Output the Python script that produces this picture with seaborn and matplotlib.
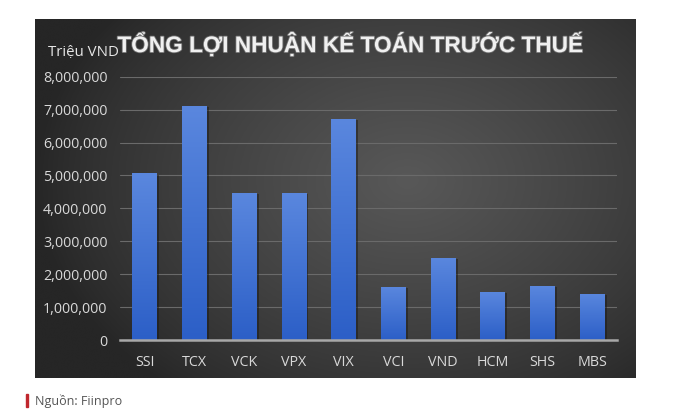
import numpy as np
import pandas as pd
import matplotlib
matplotlib.use("Agg")
import matplotlib.pyplot as plt
import seaborn as sns
from matplotlib.colors import LinearSegmentedColormap
from matplotlib.ticker import FuncFormatter
import matplotlib.patches as mpatches
import matplotlib.patheffects as pe

# ---- data ----
companies = ["SSI", "TCX", "VCK", "VPX", "VIX", "VCI", "VND", "HCM", "SHS", "MBS"]
profit = [5070000, 7110000, 4480000, 4480000, 6720000, 1620000, 2500000, 1470000, 1650000, 1400000]
y_ticks = [0, 1000000, 2000000, 3000000, 4000000, 5000000, 6000000, 7000000, 8000000]
title = "TỔNG LỢI NHUẬN KẾ TOÁN TRƯỚC THUẾ"
unit_label = "Triệu VND"
source = "Nguồn: Fiinpro"

sns.set_theme(style="dark")
plt.rcParams['font.family'] = ['Open Sans', 'DejaVu Sans']

W, H = 673, 412
fig = plt.figure(figsize=(W / 100, H / 100), dpi=100)
fig.patch.set_facecolor('white')


def rect(x0, y0, x1, y1):
    return [x0 / W, 1 - y1 / H, (x1 - x0) / W, (y1 - y0) / H]


# background panel with radial gradient
bg = fig.add_axes(rect(35, 19, 636, 378))
ny, nx = 200, 330
yy, xx = np.mgrid[0:1:ny * 1j, 0:1:nx * 1j]
r = np.sqrt(((xx - 0.62) / 0.62) ** 2 + ((yy - 0.55) / 0.75) ** 2)
vals = np.clip(1 - r, 0, 1) ** 0.8
bg_cmap = LinearSegmentedColormap.from_list('bg', ['#262626', '#585858'])
bg.imshow(vals, cmap=bg_cmap, aspect='auto', extent=[0, 1, 0, 1], interpolation='bicubic', origin='lower')
bg.set_xlim(0, 1)
bg.set_ylim(0, 1)
bg.axis('off')

# main plot
ax = fig.add_axes(rect(120, 76.7, 617, 340))
ax.patch.set_alpha(0)
df = pd.DataFrame({'company': companies, 'profit': profit})
sns.barplot(data=df, x='company', y='profit', ax=ax, color='#3f72d0',
            width=0.5, saturation=1, zorder=3, linewidth=0, edgecolor='none')
ax.set_xlim(-0.5, len(companies) - 0.5)
ax.set_ylim(0, 8000000)

bar_cmap = LinearSegmentedColormap.from_list('bar', ['#2c5fc7', '#5a87de'])
grad = np.linspace(0, 1, 100).reshape(-1, 1)
for p in ax.patches:
    x0, y0 = p.get_x(), p.get_y()
    w, h = p.get_width(), p.get_height()
    p.set_path_effects([pe.SimplePatchShadow(offset=(1.5, -1), shadow_rgbFace='#1a1a1a', alpha=0.5), pe.Normal()])
    im = ax.imshow(grad, cmap=bar_cmap, aspect='auto', origin='lower',
                   extent=[x0, x0 + w, y0, y0 + h], zorder=4, interpolation='bicubic')
    im.set_clip_path(p)
ax.set_xlim(-0.5, len(companies) - 0.5)
ax.set_ylim(0, 8000000)

ax.set_yticks(y_ticks)
ax.yaxis.set_major_formatter(FuncFormatter(lambda v, _: f"{int(v):,}"))
ax.yaxis.grid(True, color='#6a6a6a', lw=0.8, zorder=0)
ax.xaxis.grid(False)
ax.set_axisbelow(True)
for s in ['top', 'right', 'left']:
    ax.spines[s].set_visible(False)
ax.spines['bottom'].set_color('#a8a8a8')
ax.spines['bottom'].set_linewidth(1.8)
ax.spines['bottom'].set_zorder(6)
ax.tick_params(axis='y', length=0, pad=9, labelsize=10.3, labelcolor='#d9d9d9')
ax.tick_params(axis='x', length=0, pad=10.5, labelsize=10.3, labelcolor='#d9d9d9')
ax.set_xlabel('')
ax.set_ylabel('')

# title and labels
fig.text(350 / W, 1 - 44 / H, title, ha='center', va='center', fontsize=16.3,
         fontweight='bold', color='#f0f0f0', family=['Liberation Sans', 'DejaVu Sans'],
         path_effects=[pe.withStroke(linewidth=1.2, foreground='#707070')])
fig.text(48 / W, 1 - 53 / H, unit_label, ha='left', va='center', fontsize=10.8, color='#e6e6e6')

# footer
fig.patches.append(mpatches.Rectangle((26 / W, 1 - 407 / H), 2 / W, 13 / H,
                                      transform=fig.transFigure, color='#c0272d', figure=fig))
fig.text(35 / W, 1 - 401 / H, source, ha='left', va='center', fontsize=9, color='#555555')

fig.savefig('out.png', dpi=100)
